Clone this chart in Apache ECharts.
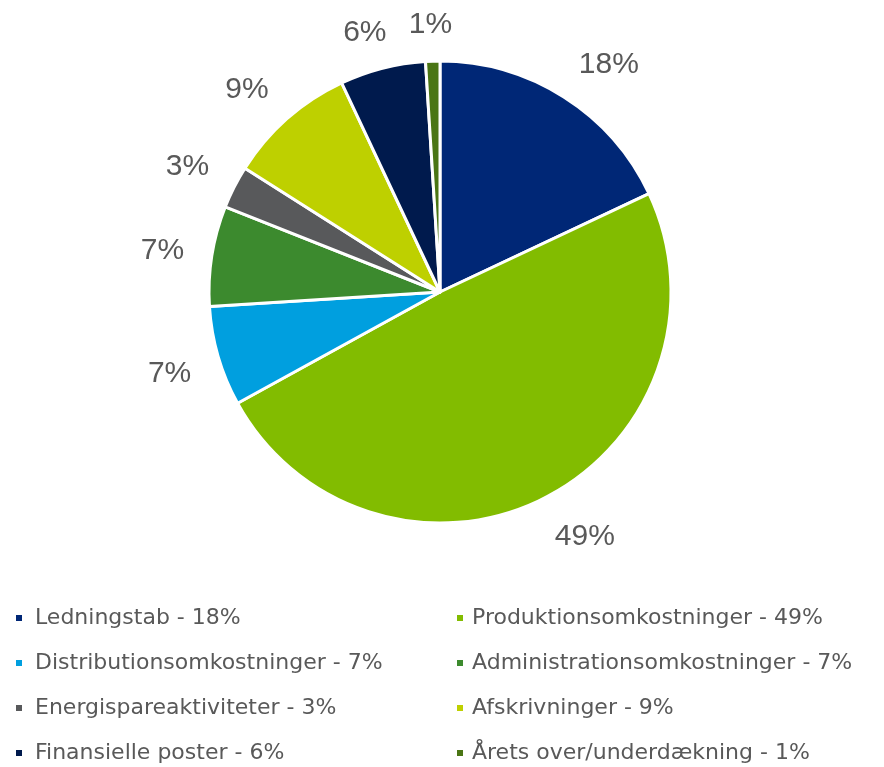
<!DOCTYPE html>
<html><head><meta charset="utf-8">
<script src="https://cdn.jsdelivr.net/npm/echarts@6/dist/echarts.min.js"></script>
<style>html,body{margin:0;padding:0;background:#fff}#c{width:884px;height:767px}</style>
</head><body><div id="c"></div>
<script>
var categories = ['Ledningstab','Produktionsomkostninger','Distributionsomkostninger','Administrationsomkostninger','Energispareaktiviteter','Afskrivninger','Finansielle poster','Årets over/underdækning'];
var values = [18, 49, 7, 7, 3, 9, 6, 1];
var colors = ['#002776','#82bc00','#009fdf','#3c8a2e','#58595b','#bed000','#001a4d','#4a7514'];
// legend grid: [row, column] for each category
var legendRow = [0, 0, 1, 1, 2, 2, 3, 3];
var legendCol = [0, 1, 0, 1, 0, 1, 0, 1];

var CX = 440, CY = 292, R = 231;
var labelFont = 30;
var font = '"Liberation Sans", Arial, sans-serif';
var legendFont = '"DejaVu Sans", sans-serif';

var data = categories.map(function(n, i){ return {name: n, value: values[i], itemStyle:{color: colors[i]}}; });
var ringData = categories.map(function(n, i){ return {name: n, value: values[i]}; });
function legendFmt(name){ return name + ' - ' + values[categories.indexOf(name)] + '%'; }

var rowTop = [606, 651, 696, 741];
var colLeft = [14, 455];
var colPad = [7, 3];
var legends = categories.map(function(n, i){
  return {
    orient: 'horizontal', left: colLeft[legendCol[i]], top: rowTop[legendRow[i]], padding: 0,
    data: [n], icon: 'rect', itemWidth: 8, itemHeight: 8,
    selectedMode: false, formatter: legendFmt,
    textStyle: {fontFamily: legendFont, fontSize: 22, color: '#595959', lineHeight: 24, padding: [0,0,0,colPad[legendCol[i]]]}
  };
});

function clamp(v){ return Math.max(-1, Math.min(1, v)); }
var chart = echarts.init(document.getElementById('c'), null, {renderer:'canvas'});
chart.setOption({
  animation: false,
  legend: legends,
  series: [{
    type: 'pie', center: [CX, CY], radius: [0, R], startAngle: 90, clockwise: true,
    data: data,
    itemStyle: {borderColor: '#fff', borderWidth: 3},
    label: {show: false}, labelLine: {show: false}, emphasis: {disabled: true}
  }, {
    type: 'pie', center: [CX, CY], radius: [R + 15, R + 35], startAngle: 90, clockwise: true,
    data: ringData, silent: true,
    itemStyle: {color: 'rgba(0,0,0,0)'},
    label: {show: true, position: 'inside', formatter: '{c}%', fontFamily: font, fontSize: labelFont, color: '#595959', rotate: 0},
    labelLine: {show: false}, emphasis: {disabled: true},
    labelLayout: function(p){
      var r = p.labelRect;
      var ax = r.x + r.width / 2, ay = r.y + r.height / 2;
      var ux = ax - CX, uy = ay - CY, len = Math.sqrt(ux*ux + uy*uy);
      ux /= len; uy /= len;
      var hw = r.width / 2, hh = labelFont * 0.38;
      return {x: ax + clamp(ux / 0.5) * hw, y: ay + clamp(uy / 0.5) * hh + 3, align: 'center', verticalAlign: 'middle'};
    }
  }]
});
</script></body></html>
